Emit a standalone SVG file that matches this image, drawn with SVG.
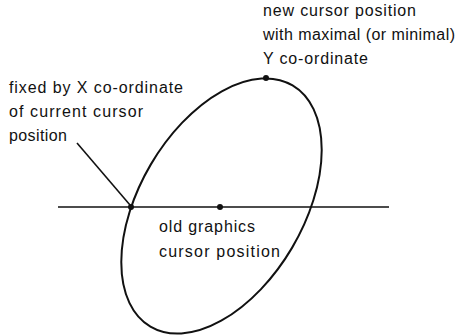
<svg xmlns="http://www.w3.org/2000/svg" width="461" height="335" viewBox="0 0 461 335">
<style>
  text { font-family: "Liberation Sans", Arial, sans-serif; font-size: 16px; fill: #111; }
  .curve { fill: none; stroke: #111; stroke-width: 2; }
  .line { fill: none; stroke: #111; stroke-width: 1.6; }
  .dot { fill: #111; }
</style>
<rect width="461" height="335" fill="#fff"/>
<g id="ellipse">
  <ellipse class="curve" cx="221.5" cy="206" rx="140" ry="82" transform="rotate(-59.5 221.5 206)"/>
</g>
<g id="connectors">
  <line class="line" x1="58" y1="207" x2="389" y2="207"/>
  <line class="line" x1="77" y1="143" x2="130" y2="205"/>
</g>
<g id="node-fixed">
  <circle class="dot" cx="131" cy="207" r="3"/>
  <text x="9" y="93" textLength="174" lengthAdjust="spacing">fixed by X co-ordinate</text>
  <text x="9" y="117" textLength="134" lengthAdjust="spacing">of current cursor</text>
  <text x="9" y="141" textLength="58" lengthAdjust="spacing">position</text>
</g>
<g id="node-new">
  <circle class="dot" cx="266" cy="78" r="3"/>
  <text x="263" y="16" textLength="153" lengthAdjust="spacing">new cursor position</text>
  <text x="263" y="40" textLength="192" lengthAdjust="spacing">with maximal (or minimal)</text>
  <text x="263" y="64" textLength="105" lengthAdjust="spacing">Y co-ordinate</text>
</g>
<g id="node-old">
  <circle class="dot" cx="220" cy="207" r="3"/>
  <text x="159" y="232" textLength="96" lengthAdjust="spacing">old graphics</text>
  <text x="159" y="257" textLength="121" lengthAdjust="spacing">cursor position</text>
</g>
</svg>
